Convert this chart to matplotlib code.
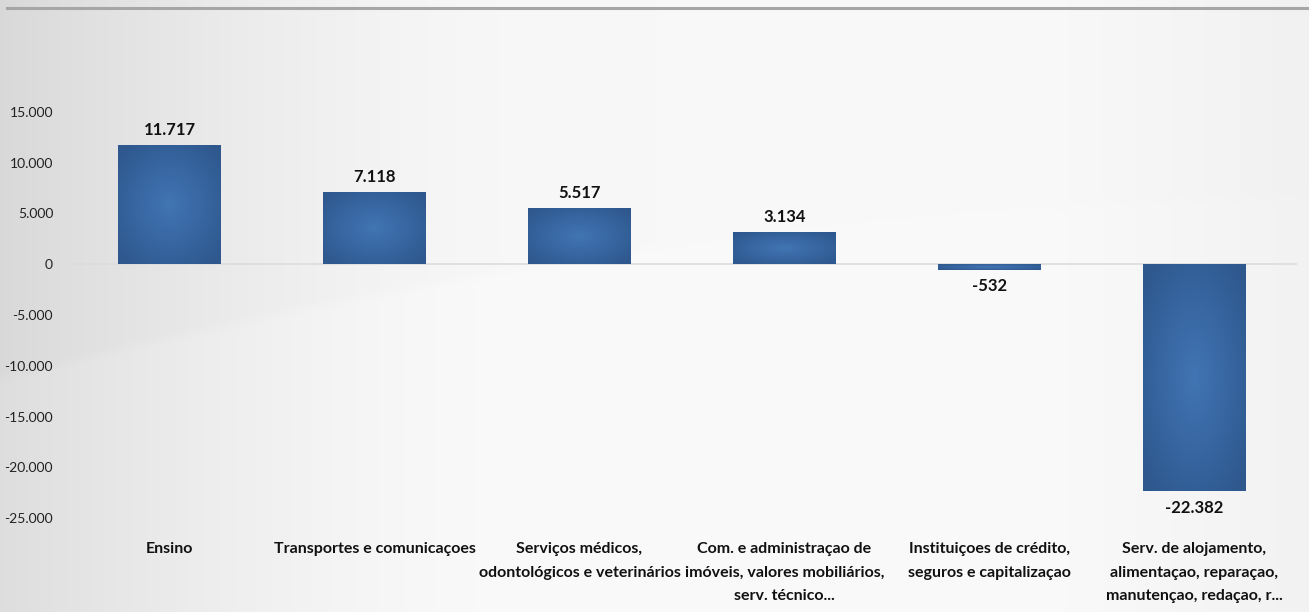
import numpy as np
import matplotlib.pyplot as plt

categorias = [
    "Ensino",
    "Transportes e comunicaçoes",
    "Serviços médicos,\nodontológicos e veterinários",
    "Com. e administraçao de\nimóveis, valores mobiliários,\nserv. técnico...",
    "Instituiçoes de crédito,\nseguros e capitalizaçao",
    "Serv. de alojamento,\nalimentaçao, reparaçao,\nmanutençao, redaçao, r...",
]
saldo = [11717, 7118, 5517, 3134, -532, -22382]
rotulos = ["11.717", "7.118", "5.517", "3.134", "-532", "-22.382"]
yticks = [15000, 10000, 5000, 0, -5000, -10000, -15000, -20000, -25000]
ytick_labels = ["15.000", "10.000", "5.000", "0", "-5.000", "-10.000",
                "-15.000", "-20.000", "-25.000"]

plt.rcParams['font.family'] = ['Lato', 'DejaVu Sans']

W, H = 1309, 612
fig = plt.figure(figsize=(W / 100, H / 100), dpi=100)

# background: soft gray gradient with a faint diagonal swoosh
bg = fig.add_axes([0, 0, 1, 1], zorder=-10)
xx, yy = np.meshgrid(np.linspace(0, 1, 1309), np.linspace(0, 1, 612))
base = 0.975 - 0.11 * np.clip(1 - xx / 0.4, 0, 1) ** 1.6 - 0.03 * np.clip((xx - 0.8) / 0.2, 0, 1)
curve = 0.37 + 0.55 * xx - 0.25 * xx ** 2
edge = np.clip((yy - curve) / 0.02, 0, 1)
img = base - 0.015 * edge * np.clip(1 - xx / 0.6, 0, 1) + 0.004 * (1 - edge)
img = np.clip(img, 0, 1)
bg.imshow(np.dstack([img, img, img]), extent=[0, 1, 0, 1], aspect='auto', origin='lower')
bg.plot([7 / W, 1], [1 - 8 / H, 1 - 8 / H], color='#a6a6a6', lw=2.2)
bg.set_xlim(0, 1)
bg.set_ylim(0, 1)
bg.axis('off')

ax = fig.add_axes([67 / W, 1 - 518 / H, 1230 / W, 406 / H])
ax.patch.set_alpha(0)
x = np.arange(len(categorias))
bars = ax.bar(x, saldo, width=0.5, color='#3565a0', zorder=3)
ax.set_xlim(-0.5, len(categorias) - 0.5)
ax.set_ylim(-25000, 15000)

# radial shading inside each bar
gy, gx = np.meshgrid(np.linspace(-1, 1, 100), np.linspace(-1, 1, 100), indexing='ij')
r = np.clip(np.sqrt(gx ** 2 + gy ** 2) / 1.3, 0, 1)
c_in = np.array([0x42, 0x75, 0xb4]) / 255
c_out = np.array([0x2e, 0x58, 0x8e]) / 255
shade = c_in[None, None, :] * (1 - r[..., None]) + c_out[None, None, :] * r[..., None]
for b in bars:
    x0, w = b.get_x(), b.get_width()
    y0, h = b.get_y(), b.get_height()
    im = ax.imshow(shade, extent=[x0, x0 + w, min(y0, y0 + h), max(y0, y0 + h)],
                   aspect='auto', zorder=4, interpolation='bilinear')
    im.set_clip_path(b)

ax.axhline(0, color='#dcdcdc', lw=1.2, zorder=2)

for xi, v, t in zip(x, saldo, rotulos):
    if v >= 0:
        ax.annotate(t, (xi, v), xytext=(0, 5), textcoords='offset points',
                    ha='center', va='bottom', fontsize=12, fontweight='bold', color='#111111')
    else:
        ax.annotate(t, (xi, v), xytext=(0, -6), textcoords='offset points',
                    ha='center', va='top', fontsize=12, fontweight='bold', color='#111111')

ax.set_yticks(yticks)
ax.set_yticklabels(ytick_labels, fontsize=10, color='#222222')
ax.set_xticks(x)
ax.set_xticklabels(categorias, fontsize=11.5, fontweight='bold', color='#111111',
                   linespacing=1.9)
ax.tick_params(axis='both', length=0)
ax.tick_params(axis='y', pad=10)
ax.tick_params(axis='x', pad=17)
for s in ax.spines.values():
    s.set_visible(False)

fig.savefig("out.png", dpi=100)
